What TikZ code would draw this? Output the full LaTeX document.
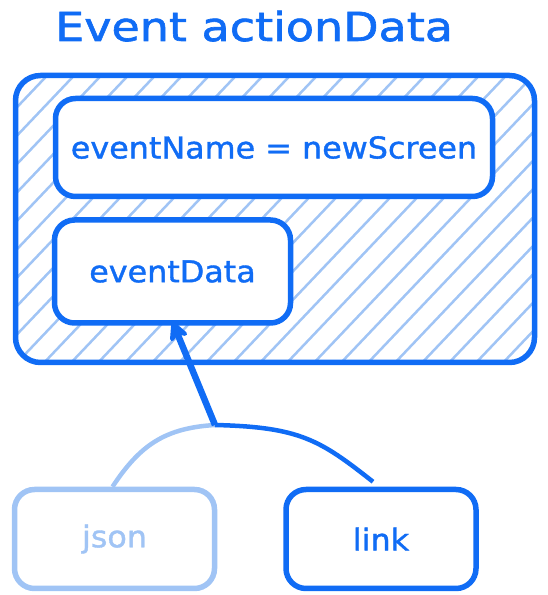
\documentclass[tikz,border=0pt]{standalone}
\usepackage{fontspec}
\newfontfamily\titlefont[FakeStretch=1.15, FakeBold=1.6]{DejaVu Sans}
\newfontfamily\handfont[FakeStretch=1.06, FakeBold=1.2]{DejaVu Sans}
\usepackage{xcolor}
\definecolor{darkblue}{RGB}{16,108,245}
\definecolor{lightblue}{RGB}{160,196,245}
\usetikzlibrary{positioning,arrows.meta}

\begin{document}
\begin{tikzpicture}[x=1pt, y=1pt, >={Stealth[round, length=24pt, width=24pt]}, box/.style = {draw=darkblue, line width=5.5pt, rounded corners=20pt, fill=white, text=darkblue, font=\handfont\fontsize{30}{34}\selectfont}, hatch/.style = {lightblue, line width=2.5pt}, link/.style = {line width=4.5pt}]

\useasboundingbox (0,0) rectangle (547,595);

\node[anchor=base west, inner sep=0pt, text=darkblue, font=\titlefont\fontsize{40}{46}\selectfont] (0) at (55,554) {Event actionData};

\node[draw=darkblue, line width=5.5pt, rounded corners=25pt, minimum width=519pt, minimum height=287pt, path picture={
  \foreach \x in {-300,-273,...,540}
    \draw[hatch] ([xshift=\x pt, yshift=-5pt]path picture bounding box.south west) -- ++(290,305);
}] (1) at (275,376) {};

\node[box, minimum width=437pt, minimum height=98pt] (2) [below right = 23pt and 40pt of 1.north west] {eventName = newScreen};
\node[box, minimum width=236pt, minimum height=103pt] (3) [below right = 18pt and -1pt of 2.south west] {eventData};

\node[box, draw=lightblue, text=lightblue, minimum width=200pt, minimum height=99pt] (4) at (114.5,56) {json};
\node[box, minimum width=190pt, minimum height=99pt] (5) [right = 66pt of 4] {link};

\coordinate (j) at (215,170);

\draw[link, lightblue] (j) .. controls (165,167) and (140,150) .. ([xshift=-2pt]4.north);
\draw[link, darkblue] (j) .. controls (300,168) and (320,155) .. ([xshift=-8pt, yshift=5pt]5.north);
\draw[->, line width=6.5pt, darkblue] (j) -- ([yshift=4pt]3.south);
\end{tikzpicture}
\end{document}
